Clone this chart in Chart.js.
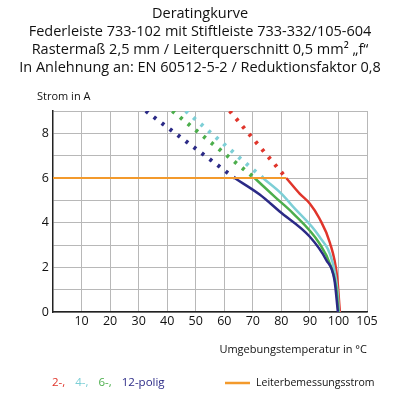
<!DOCTYPE html>
<html><head><meta charset="utf-8">
<script src="https://cdn.jsdelivr.net/npm/chart.js@4/dist/chart.umd.min.js"></script>
<style>body{margin:0;background:#fff}canvas{display:block}</style>
</head><body><canvas id="c" width="400" height="400"></canvas>
<script>
const titleLines=["Deratingkurve","Federleiste 733-102 mit Stiftleiste 733-332/105-604","Rastermaß 2,5 mm / Leiterquerschnitt 0,5 mm² „f“","In Anlehnung an: EN 60512-5-2 / Reduktionsfaktor 0,8"];
const xTicks=[10,20,30,40,50,60,70,80,90,100,110];
const xTickLabels=["10","20","30","40","50","60","70","80","90","100","105"];
const yTicks=[0,1,2,3,4,5,6,7,8,9];
const blueDash=[[32.5,9],[63.6,6]];
const blueSolid=[[63.6,6],[72.4,5.26],[79.4,4.5],[89.9,3.38],[95.7,2.33],[98.6,1.43],[99.8,0]];
const greenDash=[[41.8,9],[70.6,6]];
const greenSolid=[[70.6,6],[78.2,5.1],[84,4.43],[93.3,3.08],[97.4,2.03],[99.2,1.1],[100,0]];
const cyanDash=[[46.5,9],[73.5,6]];
const cyanSolid=[[73.5,6],[80,5.3],[84,4.73],[93.3,3.38],[98,2.2],[99.6,1],[100.2,0]];
const redDash=[[61.9,9],[81.7,6]];
const redSolid=[[81.7,6],[86.4,5.3],[90,4.85],[93.3,4.2],[97,3.1],[99.5,1.6],[100.5,0]];
const orangeLine=[[0,6],[81.7,6]];
const C={blue:'#2b2a86',green:'#4cae4c',cyan:'#7dcfd6',red:'#e0352b',orange:'#f39a2c'};
const pts=a=>a.map(p=>({x:p[0],y:p[1]}));
const ds=(d,c,dash,w)=>({data:pts(d),borderColor:c,borderWidth:w||2.5,borderDash:dash?[3,7]:[],pointRadius:0,fill:false,cubicInterpolationMode:'monotone',showLine:true});
const font="'Open Sans', sans-serif";
const textPlugin={id:'txt',afterDraw(ch){const g=ch.ctx;g.save();g.fillStyle='#111';g.textAlign='center';g.textBaseline='middle';
g.font="14.5px "+font;titleLines.forEach((t,i)=>g.fillText(t,200,14+i*18));
g.font="11px "+font;g.textAlign='left';g.fillText("Strom in A",37,97);
g.textAlign='right';g.fillText("Umgebungstemperatur in °C",367,350);
g.textAlign='left';g.font="11.5px "+font;let x=52;
[["2-,",C.red],["4-,",C.cyan],["6-,",C.green],["12-polig",C.blue]].forEach(([t,c])=>{g.fillStyle=c;g.fillText(t,x,383);x+=g.measureText(t).width+10;});
g.strokeStyle=C.orange;g.lineWidth=2.5;g.beginPath();g.moveTo(225,383);g.lineTo(250,383);g.stroke();
g.font="10.5px "+font;g.fillStyle='#111';g.fillText("Leiterbemessungsstrom",256,383);g.restore();}};
new Chart(document.getElementById('c'),{type:'scatter',data:{datasets:[
ds(orangeLine,C.orange,false,2),
ds(blueDash,C.blue,true,4),ds(greenDash,C.green,true,4),ds(cyanDash,C.cyan,true,4),ds(redDash,C.red,true,4),
ds(blueSolid,C.blue),ds(greenSolid,C.green),ds(cyanSolid,C.cyan),ds(redSolid,C.red)]},
options:{responsive:false,animation:false,layout:{padding:{top:111,right:33,bottom:68,left:0}},
plugins:{legend:{display:false},tooltip:{enabled:false}},
scales:{x:{type:'linear',min:0,max:110,afterBuildTicks:s=>{s.ticks=xTicks.map(v=>({value:v}));},
afterFit:s=>{s.height=20;},
ticks:{autoSkip:false,maxRotation:0,color:'#111',font:{size:12.5,family:font},padding:2,callback:(v)=>xTickLabels[xTicks.indexOf(v)]},
grid:{color:'#b8b8b8',lineWidth:1,drawTicks:false},border:{color:'#222',width:1.5}},
y:{min:0,max:9,afterBuildTicks:s=>{s.ticks=yTicks.map(v=>({value:v}));},afterFit:s=>{s.width=53;},
ticks:{color:'#111',font:{size:12.5,family:font},padding:4,callback:v=>v%2===0?String(v):''},
grid:{color:'#b8b8b8',lineWidth:1,drawTicks:false},border:{color:'#222',width:1.5}}}},
plugins:[textPlugin]});
</script></body></html>
